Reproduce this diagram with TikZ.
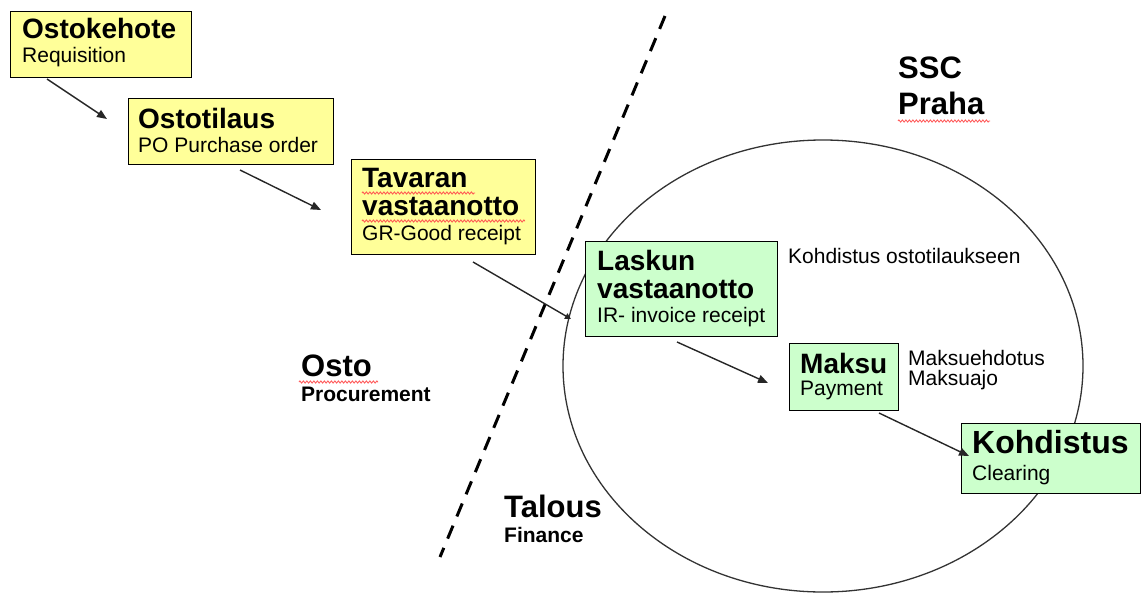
\documentclass[tikz,border=0pt]{standalone}
\usepackage{fontspec}
\setmainfont{Liberation Sans}
\usetikzlibrary{arrows.meta,decorations.pathmorphing}
\definecolor{boxyellow}{HTML}{FFFF99}
\definecolor{boxgreen}{HTML}{CCFFCC}
\definecolor{spellred}{HTML}{FF5050}
\begin{document}
\begin{tikzpicture}[x=1pt,y=-1pt,
  box/.style={draw=black, line width=1.3pt, inner sep=0pt, anchor=north west},
  yel/.style={box, fill=boxyellow},
  grn/.style={box, fill=boxgreen},
  txt/.style={inner sep=0pt, anchor=base west, text=black},
  head/.style={txt, font=\bfseries\fontsize{28}{30}\selectfont},
  big/.style={txt, font=\bfseries\fontsize{31}{33}\selectfont},
  sub/.style={txt, font=\fontsize{21}{24}\selectfont},
  subb/.style={txt, font=\bfseries\fontsize{21}{24}\selectfont},
  flow/.style={line width=1.4pt, draw=black!85, -{Triangle[length=10pt,width=8pt]}},
  spell/.style={draw=spellred, line width=0.8pt, decorate,
    decoration={zigzag, amplitude=1.1pt, segment length=3.5pt}},
  border/.style={line width=3pt, draw=black, dash pattern=on 14pt off 10pt},
  region/.style={line width=1.3pt, draw=black!80}
]
\useasboundingbox (0,0) rectangle (1142,594);

% SSC Praha region
\draw[region] (823,366) ellipse [x radius=260, y radius=226];

% procurement / finance boundary
\coordinate (d1) at (665,16);
\coordinate (d2) at (440,557);
\draw[border] (d1) -- (d2);

% process steps
\node[yel, minimum width=181pt, minimum height=66pt] (req) at (10,11) {};
\node[yel, minimum width=205pt, minimum height=66pt] (po)  at (128,98) {};
\node[yel, minimum width=184pt, minimum height=95pt] (gr)  at (351,159) {};
\node[grn, minimum width=192pt, minimum height=95pt] (ir)  at (585,241) {};
\node[grn, minimum width=109pt, minimum height=67pt] (pay) at (789,343) {};
\node[grn, minimum width=179pt, minimum height=70pt] (clr) at (961,423) {};

% step labels
\node[head] (reqT) at (22,39) {Ostokehote};
\node[sub]  (reqS) at (22,63) {Requisition};
\node[head] (poT)  at (138,128) {Ostotilaus};
\node[sub]  (poS)  at (138,152) {PO Purchase order};
\node[head] (grT1) at (362,187) {Tavaran};
\node[head] (grT2) at (362,215) {vastaanotto};
\node[sub]  (grS)  at (362,240) {GR-Good receipt};
\node[head] (irT1) at (597,270) {Laskun};
\node[head] (irT2) at (597,298) {vastaanotto};
\node[sub]  (irS)  at (597,322) {IR- invoice receipt};
\node[head] (payT) at (800,373) {Maksu};
\node[sub]  (payS) at (800,395) {Payment};
\node[txt, font=\bfseries\fontsize{32}{34}\selectfont] (clrT) at (972,453) {Kohdistus};
\node[sub]  (clrS) at (972,480) {Clearing};

% notes
\node[sub] (note1) at (788,263) {Kohdistus ostotilaukseen};
\node[sub] (note2) at (908,365) {Maksuehdotus};
\node[sub] (note3) at (908,385) {Maksuajo};

% area labels
\node[big]  (osto)   at (301,376) {Osto};
\node[subb] (ostoS)  at (301,401) {Procurement};
\node[big]  (talous) at (504,517) {Talous};
\node[subb] (talS)   at (504,542) {Finance};
\node[big]  (ssc)    at (898,78) {SSC};
\node[big]  (praha)  at (898,114) {Praha};

% spelling marks
\draw[spell] (362,193) -- (475,193);
\draw[spell] (362,221) -- (525,221);
\draw[spell] (299,382) -- (378,382);
\draw[spell] (898,121) -- (990,121);

% flow arrows
\coordinate (a1s) at (47,79);   \coordinate (a1e) at (107,119);
\coordinate (a2s) at (240,170); \coordinate (a2e) at (321,210);
\coordinate (a3s) at (473,262); \coordinate (a3e) at (571,319);
\coordinate (a4s) at (677,342); \coordinate (a4e) at (768,383);
\coordinate (a5s) at (879,413); \coordinate (a5e) at (969,456);
\draw[flow] (a1s) -- (a1e);
\draw[flow] (a2s) -- (a2e);
\draw[flow, -{Triangle[length=6pt,width=6pt]}] (a3s) -- (a3e);
\draw[flow] (a4s) -- (a4e);
\draw[flow] (a5s) -- (a5e);
\end{tikzpicture}
\end{document}
